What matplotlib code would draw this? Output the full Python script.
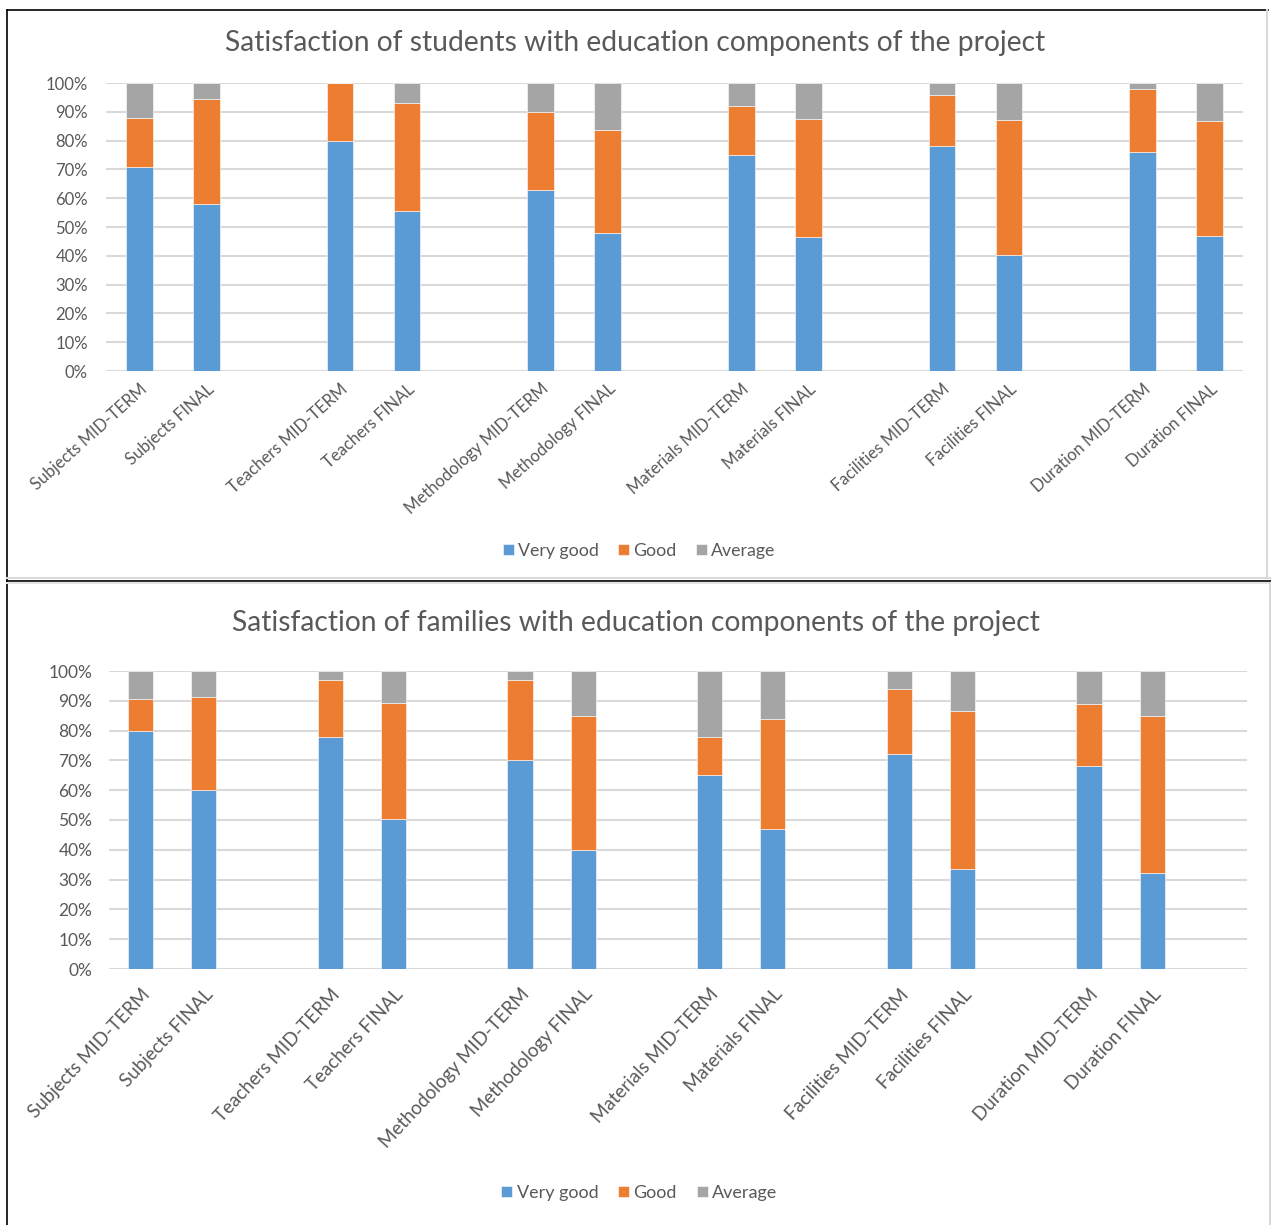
import matplotlib
matplotlib.use("Agg")
import matplotlib.pyplot as plt
from matplotlib.lines import Line2D
from matplotlib.ticker import PercentFormatter

plt.rcParams['font.family'] = ['Lato', 'DejaVu Sans']

# Category labels (blank entries are the spacer slots between groups)
students_labels = [
    "Subjects MID-TERM", "Subjects FINAL", "",
    "Teachers MID-TERM", "Teachers FINAL", "",
    "Methodology MID-TERM", "Methodology FINAL", "",
    "Materials MID-TERM", "Materials FINAL", "",
    "Facilities MID-TERM", "Facilities FINAL", "",
    "Duration MID-TERM", "Duration FINAL",
]
families_labels = students_labels + [""]

# Students (shares in %)
students_very_good = [71, 58, 0, 80, 55.4, 0, 63, 48, 0, 75, 46.4, 0, 78, 40.4, 0, 76.1, 47]
students_good      = [17, 36.5, 0, 20, 37.5, 0, 27, 35.8, 0, 16.9, 41, 0, 18, 46.6, 0, 21.9, 39.7]
students_average   = [12, 5.5, 0, 0, 7.1, 0, 10, 16.2, 0, 8.1, 12.6, 0, 4, 13, 0, 2, 13.3]

# Families (shares in %)
families_very_good = [80, 60.2, 0, 78, 50.4, 0, 70, 40, 0, 65, 47, 0, 72, 33.5, 0, 68, 32.3, 0]
families_good      = [10.6, 31, 0, 19, 38.8, 0, 27, 45, 0, 13, 37, 0, 22, 53, 0, 21, 52.6, 0]
families_average   = [9.4, 8.8, 0, 3, 10.8, 0, 3, 15, 0, 22, 16, 0, 6, 13.5, 0, 11, 15.1, 0]

series_names = ["Very good", "Good", "Average"]
colors = ["#5B9BD5", "#ED7D31", "#A5A5A5"]
text_gray = "#595959"

W, H = 1271, 1225
fig = plt.figure(figsize=(W / 100, H / 100), dpi=100)


def px_axes(x0, y0, x1, y1):
    return fig.add_axes([x0 / W, 1 - y1 / H, (x1 - x0) / W, (y1 - y0) / H])


def draw_panel(ax, labels, vg, gd, av, title, title_y, title_size, legend_y,
               ytick_size, xtick_size, rot, xpad, ypad, legend_size):
    x = list(range(len(labels)))
    bottoms = [0] * len(labels)
    handles = []
    for vals, name, c in zip([vg, gd, av], series_names, colors):
        b = ax.bar(x, vals, bottom=bottoms, width=0.4, color=c, label=name,
                   edgecolor="white", linewidth=0.4, zorder=3)
        handles.append(b)
        bottoms = [bb + v for bb, v in zip(bottoms, vals)]
    ax.set_xlim(-0.5, len(labels) - 0.5)
    ax.set_ylim(0, 100)
    ax.set_yticks(range(0, 101, 10))
    ax.yaxis.set_major_formatter(PercentFormatter(decimals=0))
    ax.grid(axis="y", color="#D9D9D9", linewidth=1.5, zorder=0)
    ax.set_axisbelow(True)
    for s in ax.spines.values():
        s.set_visible(False)
    ax.tick_params(axis="both", length=0, colors=text_gray)
    ax.tick_params(axis="y", pad=ypad, labelsize=ytick_size)
    ax.tick_params(axis="x", pad=xpad, labelsize=xtick_size)
    ax.set_xticks(x)
    ax.set_xticklabels(labels, rotation=rot, ha="right", rotation_mode="anchor")
    fig.text(0.5, 1 - title_y / H, title, ha="center", va="center",
             fontsize=title_size, color=text_gray)
    fig.legend(handles=handles, loc="center", bbox_to_anchor=(0.503, 1 - legend_y / H),
               ncol=3, frameon=False, fontsize=legend_size, labelcolor=text_gray,
               handlelength=0.6, handleheight=0.6, handletextpad=0.25, columnspacing=1.1)


ax1 = px_axes(106, 83, 1243, 371)
draw_panel(ax1, students_labels, students_very_good, students_good, students_average,
           "Satisfaction of students with education components of the project",
           title_y=43, title_size=20.3, legend_y=551,
           ytick_size=12, xtick_size=12, rot=42, xpad=7, ypad=13, legend_size=12.8)

ax2 = px_axes(109, 671, 1247, 969)
draw_panel(ax2, families_labels, families_very_good, families_good, families_average,
           "Satisfaction of families with education components of the project",
           title_y=623, title_size=20.3, legend_y=1193,
           ytick_size=12.5, xtick_size=13.5, rot=47, xpad=12, ypad=12, legend_size=13)

# Panel frames
def seg(x0, y0, x1, y1, color, lw):
    fig.add_artist(Line2D([x0 / W, x1 / W], [1 - y0 / H, 1 - y1 / H],
                          color=color, linewidth=lw, transform=fig.transFigure))

seg(7, 10, 1268, 10, "black", 1.2)
seg(7, 10, 7, 1225, "black", 1.2)
seg(1267, 10, 1267, 578, "#D9D9D9", 1.5)
seg(7, 578, 1271, 578, "#D9D9D9", 1.5)
seg(7, 580.5, 1271, 580.5, "black", 1.2)
seg(7, 583, 1271, 583, "#E3E3E3", 1.5)
seg(1270, 583, 1270, 1225, "#D9D9D9", 1.5)

fig.savefig("out.png", dpi=100)
